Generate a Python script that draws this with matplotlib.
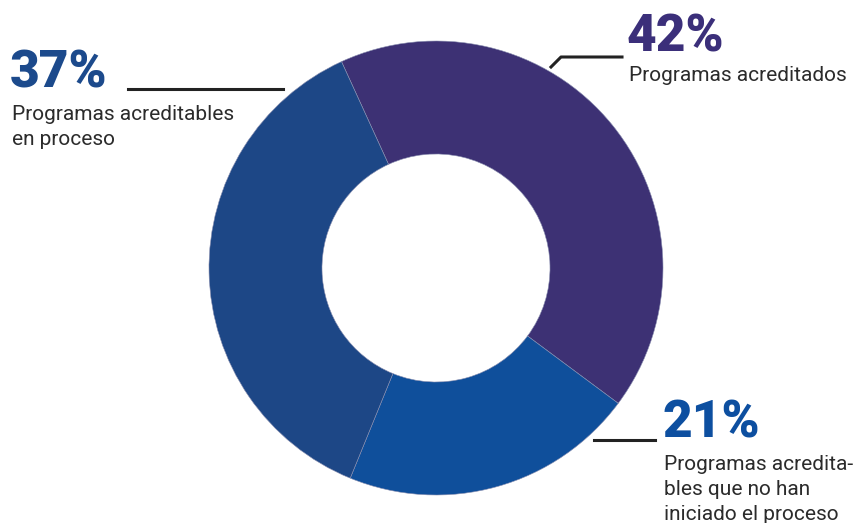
import matplotlib
matplotlib.use("Agg")
import matplotlib.pyplot as plt

# datos
valores = [42, 21, 37]
porcentajes = ["42%", "21%", "37%"]
etiquetas = ["Programas acreditados",
             "Programas acredita-\nbles que no han\niniciado el proceso",
             "Programas acreditables\nen proceso"]
colores = ["#3d3174", "#0f4f9b", "#1d4786"]
colores_txt = ["#3b2f7a", "#0d4fa0", "#1c4a8c"]

W, H = 860, 523
fig = plt.figure(figsize=(W / 100, H / 100), dpi=100)
ax = fig.add_axes([0, 0, 1, 1])

ax.pie(valores, colors=colores, startangle=114.6, counterclock=False,
       center=(436, H - 268), radius=227,
       wedgeprops=dict(width=113, edgecolor="#8a8fb0", linewidth=0.4))

ax.set_xlim(0, W)
ax.set_ylim(0, H)
ax.set_aspect("equal")
ax.axis("off")

def y(p):
    return H - p

# lineas guia
ax.plot([551, 561, 622], [y(67), y(57), y(57)], color="#222222", lw=2.2)
ax.plot([128, 283], [y(89), y(89)], color="#222222", lw=2.2)
ax.plot([594, 655], [y(440), y(440)], color="#222222", lw=2.2)

# porcentajes y textos
pos = [(627, 52, 81), (662, 437, 470), (10, 88, 120)]
for i in range(3):
    x0, yb, yl = pos[i]
    ax.text(x0, y(yb), porcentajes[i], color=colores_txt[i], fontsize=37,
            fontweight="heavy", family="Roboto", va="baseline", ha="left")
    for j, linea in enumerate(etiquetas[i].split("\n")):
        ax.text(x0 + 2, y(yl + 25 * j), linea, color="#2b2b2b", fontsize=15,
                family="Roboto", va="baseline", ha="left")

fig.savefig("out.png", dpi=100)
